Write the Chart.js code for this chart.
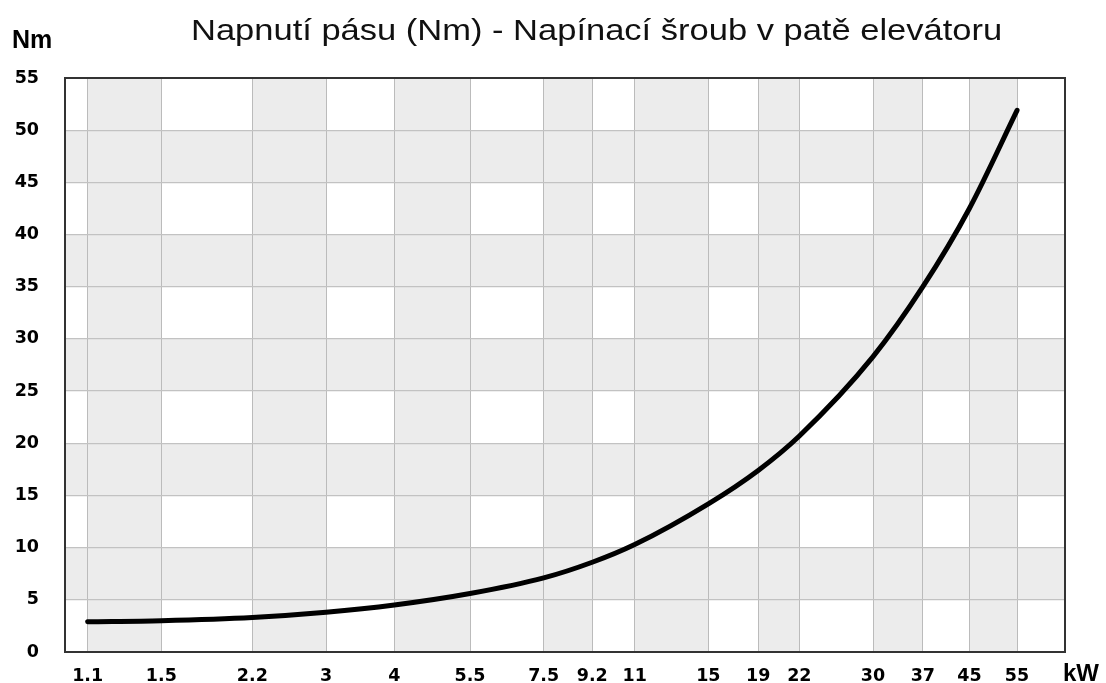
<!DOCTYPE html>
<html>
<head>
<meta charset="utf-8">
<script src="https://cdn.jsdelivr.net/npm/chart.js@4/dist/chart.umd.min.js"></script>
<style>
  html, body { margin: 0; padding: 0; background: #fff; }
  #wrap { width: 1106px; height: 683px; }
</style>
</head>
<body>
<div id="wrap"><canvas id="chart" width="1106" height="683"></canvas></div>
<script>
// výkon motoru (kW) a napnutí pásu (Nm)
const kwValues = [1.1, 1.5, 2.2, 3, 4, 5.5, 7.5, 9.2, 11, 15, 18.5, 22, 30, 37, 45, 55];
const kwLabels = ['1.1', '1.5', '2.2', '3', '4', '5.5', '7.5', '9.2', '11', '15', '19', '22', '30', '37', '45', '55'];
const nmValues = [2.9, 3.0, 3.3, 3.8, 4.5, 5.6, 7.1, 8.6, 10.3, 14.2, 17.4, 20.7, 28.3, 35.0, 42.5, 51.9];
const nmTicks = [0, 5, 10, 15, 20, 25, 30, 35, 40, 45, 50, 55];

const titleText = 'Napnutí pásu (Nm) - Napínací šroub v patě elevátoru';
const yUnit = 'Nm';
const xUnit = 'kW';

const tickFont = { family: 'DejaVu Sans', size: 17.5, weight: 'bold' };

// pozadí, pruhy, titulek a rámeček
const decorPlugin = {
  id: 'decor',
  beforeDraw(chart) {
    const { ctx, chartArea: a, scales: { x, y } } = chart;
    ctx.save();
    ctx.fillStyle = '#fff';
    ctx.fillRect(0, 0, chart.width, chart.height);
    ctx.fillStyle = '#ececec';
    // svislé pruhy - každý druhý interval mezi popisky
    for (let i = 0; i + 1 < kwValues.length; i += 2) {
      const x0 = x.getPixelForValue(kwValues[i]);
      const x1 = x.getPixelForValue(kwValues[i + 1]);
      ctx.fillRect(x0, a.top, x1 - x0, a.bottom - a.top);
    }
    // vodorovné pruhy
    for (let i = 1; i + 1 < nmTicks.length; i += 2) {
      const y0 = y.getPixelForValue(nmTicks[i + 1]);
      const y1 = y.getPixelForValue(nmTicks[i]);
      ctx.fillRect(a.left, y0, a.right - a.left, y1 - y0);
    }
    ctx.restore();
  },
  beforeDatasetsDraw(chart) {
    const { ctx, chartArea: a } = chart;
    ctx.save();
    ctx.strokeStyle = '#333';
    ctx.lineWidth = 2;
    ctx.strokeRect(a.left, a.top, a.right - a.left, a.bottom - a.top);
    ctx.restore();
  },
  afterDraw(chart) {
    const { ctx } = chart;
    ctx.save();
    ctx.fillStyle = '#111';
    ctx.textBaseline = 'alphabetic';
    ctx.textAlign = 'left';
    ctx.font = '30px "Liberation Sans", Arial, sans-serif';
    ctx.translate(191, 39.5);
    ctx.scale(1.15, 1);
    ctx.fillText(titleText, 0, 0);
    ctx.restore();

    ctx.save();
    ctx.fillStyle = '#000';
    ctx.textAlign = 'left';
    ctx.textBaseline = 'alphabetic';
    ctx.font = 'bold 25px "Liberation Sans", Arial, sans-serif';
    ctx.fillText(yUnit, 12, 48);
    ctx.font = 'bold 24px "Liberation Sans", Arial, sans-serif';
    ctx.fillText(xUnit, 1063, 681);
    ctx.restore();
  }
};

new Chart(document.getElementById('chart'), {
  type: 'line',
  data: {
    datasets: [{
      data: kwValues.map((v, i) => ({ x: v, y: nmValues[i] })),
      borderColor: '#000',
      borderWidth: 5,
      borderCapStyle: 'round',
      borderJoinStyle: 'round',
      cubicInterpolationMode: 'monotone',
      pointRadius: 0,
      fill: false
    }]
  },
  options: {
    responsive: false,
    animation: false,
    layout: { padding: { top: 78, right: 41, left: 0, bottom: 0 } },
    plugins: {
      legend: { display: false },
      title: { display: false },
      tooltip: { enabled: false }
    },
    scales: {
      x: {
        type: 'logarithmic',
        min: 1.0,
        max: 67.3,
        afterBuildTicks: s => { s.ticks = kwValues.map(v => ({ value: v })); },
        afterFit: s => { s.height = 31; },
        grid: { color: '#bbbbbb', lineWidth: 1, drawTicks: false },
        border: { display: false },
        ticks: {
          color: '#000',
          font: tickFont,
          padding: 14,
          maxRotation: 0,
          autoSkip: false,
          callback: (value, index) => kwLabels[index]
        }
      },
      y: {
        min: 0,
        max: 55,
        afterBuildTicks: s => { s.ticks = nmTicks.map(v => ({ value: v })); },
        afterFit: s => {
          s.width = 65;
          s.paddingTop = 0;
          s.paddingBottom = 0;
        },
        grid: { color: '#c2c2c2', lineWidth: 1.2, drawTicks: false },
        border: { display: false },
        ticks: {
          color: '#000',
          font: tickFont,
          padding: 26
        }
      }
    }
  },
  plugins: [decorPlugin]
});
</script>
</body>
</html>
